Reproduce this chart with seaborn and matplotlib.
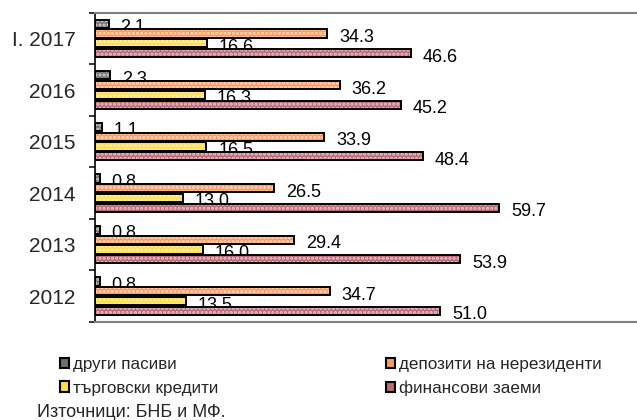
import numpy as np
import pandas as pd
import matplotlib
matplotlib.use("Agg")
import matplotlib.pyplot as plt
from matplotlib.patches import Rectangle, Patch
import seaborn as sns

# ---------- DATA ----------

years = ["I. 2017", "2016", "2015", "2014", "2013", "2012"]
series = ["други пасиви", "депозити на нерезиденти", "търговски кредити", "финансови заеми"]
drugi_pasivi = [2.1, 2.3, 1.1, 0.8, 0.8, 0.8]
depoziti = [34.3, 36.2, 33.9, 26.5, 29.4, 34.7]
targovski = [16.6, 16.3, 16.5, 13.0, 16.0, 13.5]
finansovi = [46.6, 45.2, 48.4, 59.7, 53.9, 51.0]
source_text = "Източници: БНБ и МФ."

base_colors = ["#6E6E6E", "#FF9A5C", "#FFDD4A", "#B96A76"]
dot_colors = ["#D8D8D8", "#FFD9BF", "#FFF4B8", "#EBC3CB"]

values = [drugi_pasivi, depoziti, targovski, finansovi]
df = pd.DataFrame({
    "year": years * len(series),
    "series": [s for s in series for _ in years],
    "value": [v for vals in values for v in vals],
})

# ---------- STYLE ----------

sns.set_style("white")
plt.rcParams["font.family"] = ["Liberation Sans", "DejaVu Sans"]
plt.rcParams["hatch.linewidth"] = 1.6

W, H = 637, 420
fig = plt.figure(figsize=(W / 100, H / 100), dpi=100)
ax = fig.add_axes([94.5 / W, 1 - 322 / H, (W - 94.5) / W, (322 - 12.7) / H])

sns.barplot(
    data=df, y="year", x="value", hue="series", order=years, hue_order=series,
    palette=base_colors, orient="h", width=0.76, gap=0.16, linewidth=0,
    legend=False, ax=ax, saturation=1,
)

# dotted fill + black outline on every bar
for i, cont in enumerate(ax.containers):
    for j, bar in enumerate(cont.patches):
        x0, y0 = bar.get_x(), bar.get_y()
        w, h = bar.get_width(), bar.get_height()
        ax.add_patch(Rectangle((x0, y0), w, h, facecolor="none", edgecolor=dot_colors[i],
                               hatch="....", linewidth=0, zorder=1.1))
        ax.add_patch(Rectangle((x0, y0), w, h, fill=False, edgecolor="black",
                               linewidth=1.4, zorder=1.2))
        ax.annotate(f"{values[i][j]:.1f}", (x0 + w, y0 + h / 2), xytext=(8.5, -2.8),
                    textcoords="offset points", ha="left", va="center",
                    fontsize=13, color="black", zorder=0.5)

ax.set_xlim(0, 80)
ax.set_ylim(len(years) - 0.5, -0.5)
ax.set_xlabel("")
ax.set_ylabel("")
ax.set_xticks([])
ax.set_yticks(np.arange(len(years)))
ax.set_yticklabels(years, fontsize=15)
ax.set_yticks(np.arange(len(years) + 1) - 0.5, minor=True)
ax.tick_params(axis="y", which="major", length=0, pad=13.5)
ax.tick_params(axis="y", which="minor", length=4.5, width=1.1, color="black", left=True)

for side in ["top", "bottom"]:
    ax.spines[side].set_color("#808080")
    ax.spines[side].set_linewidth(1.5)
ax.spines["left"].set_color("black")
ax.spines["left"].set_linewidth(1.2)
ax.spines["right"].set_visible(False)

# ---------- LEGEND ----------

def handle(k):
    return Patch(facecolor=base_colors[k], edgecolor="black", linewidth=1.5)

leg_kw = dict(loc="upper left", frameon=False, fontsize=12.3, borderpad=0,
              handlelength=0.55, handleheight=0.55, handletextpad=0.2,
              labelspacing=0.5, borderaxespad=0)
fig.legend([handle(0), handle(2)], [series[0], series[2]],
           bbox_to_anchor=(60 / W, 1 - 357 / H), **leg_kw)
fig.legend([handle(1), handle(3)], [series[1], series[3]],
           bbox_to_anchor=(386 / W, 1 - 357 / H), **leg_kw)

fig.text(37 / W, 1 - 417 / H, source_text, fontsize=13, ha="left", va="baseline")

fig.savefig("out.png", dpi=100)
